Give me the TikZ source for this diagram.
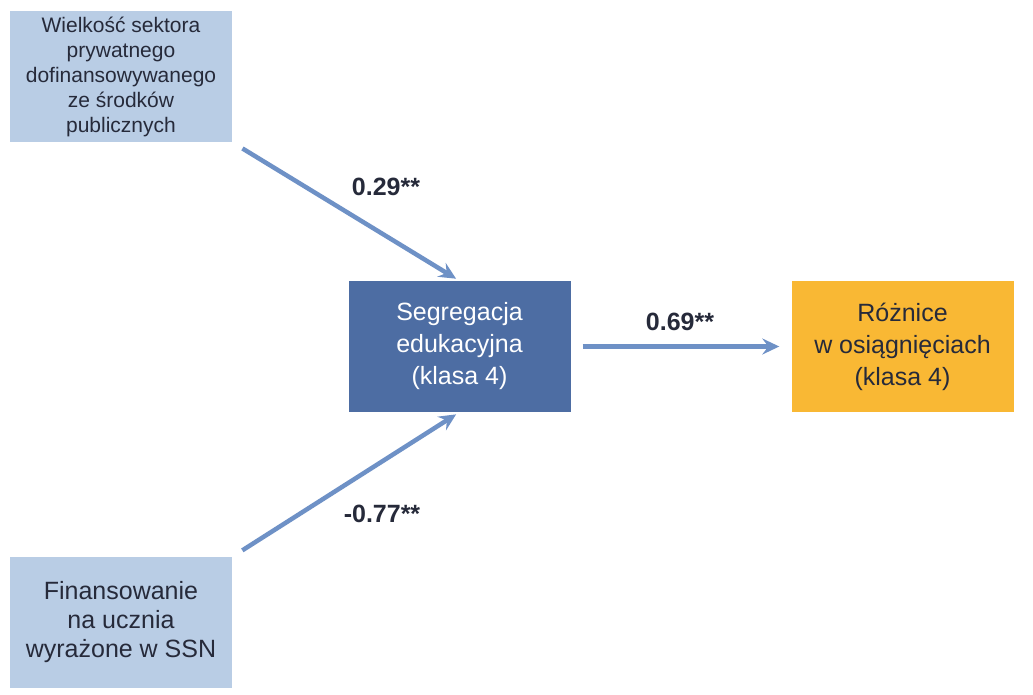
\documentclass[tikz,border=0pt]{standalone}
\usepackage{fontspec}
\setmainfont{Liberation Sans}
\usetikzlibrary{arrows.meta}

\definecolor{boxlight}{HTML}{B9CDE5}
\definecolor{boxdark}{HTML}{4D6DA3}
\definecolor{boxorange}{HTML}{F9B834}
\definecolor{arrowblue}{HTML}{6E91C6}
\definecolor{textdark}{HTML}{262A3A}

\tikzset{
    factor/.style={minimum width=222pt, minimum height=131pt, inner sep=0pt,
        align=center, text=textdark},
    effect/.style={line width=4.5pt, draw=arrowblue,
        -{Stealth[length=17pt, width=16pt, inset=6pt]}},
    coef/.style={font=\fontsize{25}{29}\selectfont\bfseries, text=textdark}
}

\begin{document}
\begin{tikzpicture}[x=1pt, y=-1pt]
    \useasboundingbox (0,0) rectangle (1033,694);

    \node[factor, fill=boxlight, font=\fontsize{21}{25}\selectfont] (privsec) at (121,76.5)
        {Wielkość sektora\\prywatnego\\dofinansowywanego\\ze środków\\publicznych};
    \node[factor, fill=boxlight, font=\fontsize{25}{29}\selectfont] (funding) at (121,622.5)
        {Finansowanie\\na ucznia\\wyrażone w SSN};
    \node[factor, fill=boxdark, text=white, font=\fontsize{25}{32}\selectfont] (segreg) at (459.5,346.5)
        {Segregacja\\edukacyjna\\(klasa 4)};
    \node[factor, fill=boxorange, font=\fontsize{25}{32}\selectfont] (gaps) at (902.5,346.5)
        {Różnice\\w osiągnięciach\\(klasa 4)};

    \draw[effect, shorten <=12pt, shorten >=4pt] (privsec.south east) -- (segreg.north);
    \draw[effect, shorten <=12pt, shorten >=4pt] (funding.north east) -- (segreg.south);
    \draw[effect, shorten <=12pt, shorten >=12pt] (segreg.east) -- (gaps.west);

    \node[coef] (coefpriv) at (386,187) {0.29**};
    \node[coef] (coeffund) at (382,514) {-0.77**};
    \node[coef] (coefgap) at (680,322) {0.69**};
\end{tikzpicture}
\end{document}
